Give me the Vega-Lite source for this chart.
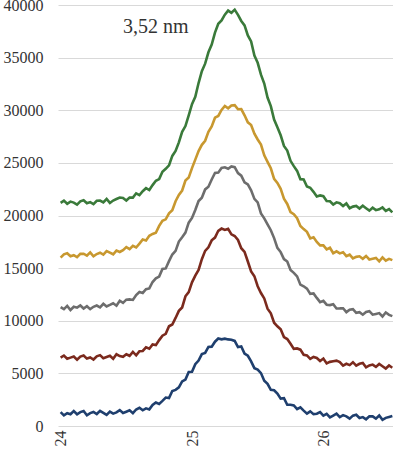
{
"$schema": "https://vega.github.io/schema/vega-lite/v6.json",
"width": 335,
"height": 421,
"autosize": {"type": "none"},
"padding": {"left": 58, "top": 5, "right": 0, "bottom": 28},
"background": "white",
"config": {"view": {"stroke": null}, "font": "Liberation Serif"},
"layer": [
{
"data": {"values": [
{"x":24,"blue":1315,"red":6497,"gray":11303,"gold":16000,"green":21205},
{"x":24.025,"blue":1015,"red":6696,"gray":11108,"gold":16307,"green":21411},
{"x":24.05,"blue":1216,"red":6396,"gray":11417,"gold":16415,"green":21115},
{"x":24.075,"blue":1116,"red":6496,"gray":11024,"gold":16122,"green":21319},
{"x":24.1,"blue":1416,"red":6596,"gray":11332,"gold":16232,"green":21226},
{"x":24.125,"blue":1118,"red":6298,"gray":11243,"gold":16044,"green":21033},
{"x":24.15,"blue":1319,"red":6600,"gray":11454,"gold":16354,"green":21343},
{"x":24.175,"blue":1422,"red":6703,"gray":11167,"gold":16368,"green":21450},
{"x":24.2,"blue":1024,"red":6406,"gray":11384,"gold":16182,"green":21160},
{"x":24.225,"blue":1227,"red":6511,"gray":11102,"gold":16499,"green":21271},
{"x":24.25,"blue":1331,"red":6316,"gray":11325,"gold":16118,"green":21086},
{"x":24.275,"blue":1136,"red":6624,"gray":11447,"gold":16339,"green":21402},
{"x":24.3,"blue":1441,"red":6732,"gray":11278,"gold":16466,"green":21421},
{"x":24.325,"blue":1248,"red":6443,"gray":11615,"gold":16293,"green":21240},
{"x":24.35,"blue":1055,"red":6555,"gray":11354,"gold":16627,"green":21565},
{"x":24.375,"blue":1366,"red":6671,"gray":11502,"gold":16469,"green":21192},
{"x":24.4,"blue":1176,"red":6389,"gray":11659,"gold":16315,"green":21424},
{"x":24.425,"blue":1291,"red":6813,"gray":11427,"gold":16667,"green":21562},
{"x":24.45,"blue":1506,"red":6639,"gray":11906,"gold":16533,"green":21706},
{"x":24.475,"blue":1229,"red":6576,"gray":11699,"gold":16711,"green":21661},
{"x":24.5,"blue":1354,"red":6819,"gray":12004,"gold":16998,"green":21426},
{"x":24.525,"blue":1485,"red":6671,"gray":12028,"gold":16801,"green":21702},
{"x":24.55,"blue":1223,"red":7036,"gray":11977,"gold":17121,"green":21696},
{"x":24.575,"blue":1570,"red":6716,"gray":12442,"gold":16960,"green":22109},
{"x":24.6,"blue":1727,"red":7112,"gray":12731,"gold":17326,"green":21943},
{"x":24.625,"blue":1496,"red":7130,"gray":12645,"gold":17716,"green":22304},
{"x":24.65,"blue":1679,"red":7471,"gray":12993,"gold":17632,"green":22596},
{"x":24.675,"blue":1580,"red":7343,"gray":13072,"gold":18072,"green":22420},
{"x":24.7,"blue":1997,"red":7744,"gray":13681,"gold":18247,"green":22887},
{"x":24.725,"blue":2238,"red":7684,"gray":14027,"gold":18360,"green":23294},
{"x":24.75,"blue":2100,"red":8161,"gray":14200,"gold":19013,"green":23455},
{"x":24.775,"blue":2389,"red":8584,"gray":14919,"gold":19505,"green":24163},
{"x":24.8,"blue":2705,"red":8754,"gray":14972,"gold":19636,"green":24434},
{"x":24.825,"blue":2652,"red":9475,"gray":15664,"gold":20204,"green":24769},
{"x":24.85,"blue":3327,"red":9645,"gray":16291,"gold":20498,"green":25662},
{"x":24.875,"blue":3432,"red":10268,"gray":16640,"gold":21358,"green":26126},
{"x":24.9,"blue":3667,"red":10941,"gray":17529,"gold":21949,"green":26950},
{"x":24.925,"blue":4230,"red":11261,"gray":17939,"gold":22373,"green":27947},
{"x":24.95,"blue":4416,"red":12323,"gray":18376,"gold":23325,"green":28501},
{"x":24.975,"blue":5125,"red":12722,"gray":19320,"gold":23604,"green":29516},
{"x":25,"blue":5148,"red":13647,"gray":19772,"gold":24499,"green":30571},
{"x":25.025,"blue":5879,"red":14284,"gray":20527,"gold":25306,"green":31271},
{"x":25.05,"blue":6212,"red":14825,"gray":21371,"gold":26116,"green":32586},
{"x":25.075,"blue":6836,"red":15850,"gray":21689,"gold":26716,"green":33712},
{"x":25.1,"blue":6939,"red":16641,"gray":22480,"gold":27096,"green":34425},
{"x":25.125,"blue":7511,"red":16977,"gray":22729,"gold":27948,"green":35507},
{"x":25.15,"blue":7538,"red":17637,"gray":23425,"gold":28454,"green":36234},
{"x":25.175,"blue":8010,"red":17902,"gray":24038,"gold":29294,"green":37379},
{"x":25.2,"blue":8312,"red":18546,"gray":24072,"gold":29455,"green":38221},
{"x":25.225,"blue":8237,"red":18759,"gray":24522,"gold":30031,"green":38530},
{"x":25.25,"blue":8300,"red":18625,"gray":24579,"gold":30412,"green":39086},
{"x":25.275,"blue":8228,"red":18742,"gray":24438,"gold":30189,"green":39471},
{"x":25.3,"blue":8194,"red":18212,"gray":24666,"gold":30456,"green":39265},
{"x":25.325,"blue":8083,"red":18051,"gray":24595,"gold":30480,"green":39556},
{"x":25.35,"blue":7502,"red":17669,"gray":24032,"gold":30093,"green":39056},
{"x":25.375,"blue":7566,"red":16892,"gray":23785,"gold":30103,"green":38486},
{"x":25.4,"blue":6885,"red":16539,"gray":23158,"gold":29518,"green":38062},
{"x":25.425,"blue":6673,"red":15631,"gray":22948,"gold":28847,"green":37105},
{"x":25.45,"blue":6140,"red":14689,"gray":22386,"gold":28597,"green":36545},
{"x":25.475,"blue":5498,"red":14231,"gray":21582,"gold":27782,"green":35203},
{"x":25.5,"blue":5358,"red":13277,"gray":21250,"gold":27221,"green":34507},
{"x":25.525,"blue":5026,"red":12635,"gray":20193,"gold":26731,"green":33379},
{"x":25.55,"blue":4308,"red":12119,"gray":19725,"gold":25722,"green":32538},
{"x":25.575,"blue":4013,"red":11140,"gray":19159,"gold":25103,"green":31208},
{"x":25.6,"blue":3441,"red":10703,"gray":18602,"gold":24486,"green":30393},
{"x":25.625,"blue":3397,"red":9813,"gray":17852,"gold":23482,"green":29124},
{"x":25.65,"blue":3083,"red":9473,"gray":16928,"gold":23094,"green":28394},
{"x":25.675,"blue":2599,"red":9186,"gray":16525,"gold":22532,"green":27625},
{"x":25.7,"blue":2643,"red":8448,"gray":15863,"gold":21598,"green":26613},
{"x":25.725,"blue":2018,"red":8261,"gray":15623,"gold":21098,"green":26174},
{"x":25.75,"blue":2020,"red":7821,"gray":14817,"gold":20329,"green":25196},
{"x":25.775,"blue":1949,"red":7327,"gray":14551,"gold":20125,"green":24688},
{"x":25.8,"blue":1599,"red":7370,"gray":14219,"gold":19748,"green":24238},
{"x":25.825,"blue":1773,"red":7252,"gray":13432,"gold":19008,"green":23452},
{"x":25.85,"blue":1463,"red":6763,"gray":13273,"gold":18706,"green":23429},
{"x":25.875,"blue":1171,"red":6705,"gray":13051,"gold":18444,"green":22754},
{"x":25.9,"blue":1393,"red":6370,"gray":12558,"gold":17822,"green":22632},
{"x":25.925,"blue":1127,"red":6557,"gray":12596,"gold":17937,"green":22250},
{"x":25.95,"blue":1171,"red":6460,"gray":12169,"gold":17487,"green":21811},
{"x":25.975,"blue":1324,"red":6178,"gray":11767,"gold":17162,"green":21904},
{"x":26,"blue":984,"red":6409,"gray":11888,"gold":17163,"green":21829},
{"x":26.025,"blue":1150,"red":5949,"gray":11526,"gold":16787,"green":21380},
{"x":26.05,"blue":818,"red":6095,"gray":11489,"gold":16939,"green":21352},
{"x":26.075,"blue":994,"red":6152,"gray":11570,"gold":16410,"green":21043},
{"x":26.1,"blue":1170,"red":6211,"gray":11164,"gold":16597,"green":21252},
{"x":26.125,"blue":851,"red":6076,"gray":11172,"gold":16401,"green":21173},
{"x":26.15,"blue":1031,"red":5743,"gray":11190,"gold":16514,"green":20903},
{"x":26.175,"blue":915,"red":5914,"gray":10819,"gold":16138,"green":21144},
{"x":26.2,"blue":699,"red":5786,"gray":11058,"gold":16276,"green":20691},
{"x":26.225,"blue":985,"red":6061,"gray":11106,"gold":15921,"green":20844},
{"x":26.25,"blue":1071,"red":5736,"gray":10755,"gold":16070,"green":20903},
{"x":26.275,"blue":758,"red":5914,"gray":10811,"gold":16126,"green":20663},
{"x":26.3,"blue":846,"red":5992,"gray":10576,"gold":15890,"green":20929},
{"x":26.325,"blue":635,"red":5572,"gray":10839,"gold":16154,"green":20695},
{"x":26.35,"blue":923,"red":5752,"gray":10908,"gold":15823,"green":20464},
{"x":26.375,"blue":913,"red":5833,"gray":10578,"gold":15895,"green":20735},
{"x":26.4,"blue":702,"red":5614,"gray":10651,"gold":15969,"green":20509},
{"x":26.425,"blue":993,"red":5897,"gray":10726,"gold":15645,"green":20584},
{"x":26.45,"blue":584,"red":5680,"gray":10402,"gold":16021,"green":20762},
{"x":26.475,"blue":774,"red":5463,"gray":10781,"gold":15702,"green":20437},
{"x":26.5,"blue":865,"red":5747,"gray":10560,"gold":15881,"green":20616},
{"x":26.525,"blue":957,"red":5532,"gray":10438,"gold":15761,"green":20294}
]},
"transform": [{"fold": ["blue", "red", "gray", "gold", "green"], "as": ["series", "value"]}],
"mark": {"type": "line", "strokeWidth": 2.6, "clip": true},
"encoding": {
"x": {"field": "x", "type": "quantitative",
"scale": {"domain": [23.98, 26.53], "nice": false, "zero": false},
"axis": {"values": [24, 25, 26], "format": "d", "labelAngle": -90, "grid": false, "ticks": false, "domain": false, "labelFont": "Liberation Serif", "labelFontSize": 16, "labelColor": "#333333", "labelPadding": 4, "title": null}},
"y": {"field": "value", "type": "quantitative",
"scale": {"domain": [0, 40000], "nice": false},
"axis": {"values": [0, 5000, 10000, 15000, 20000, 25000, 30000, 35000, 40000], "format": "d", "grid": true, "gridColor": "#d9d9d9", "gridWidth": 1, "ticks": false, "domain": false, "labelFont": "Liberation Serif", "labelFontSize": 16, "labelColor": "#333333", "labelPadding": 15, "title": null}},
"color": {"field": "series", "type": "nominal",
"scale": {"domain": ["blue", "red", "gray", "gold", "green"], "range": ["#1f3f6e", "#7b2a1d", "#6d6d6d", "#c8982f", "#3a7a3a"]},
"legend": null}
}
},
{
"data": {"values": [{"x": 24.475, "y": 37900, "label": "3,52 nm"}]},
"mark": {"type": "text", "align": "left", "baseline": "middle", "font": "Liberation Serif", "fontSize": 20, "color": "#333333"},
"encoding": {
"x": {"field": "x", "type": "quantitative"},
"y": {"field": "y", "type": "quantitative"},
"text": {"field": "label", "type": "nominal"}
}
}
]
}
